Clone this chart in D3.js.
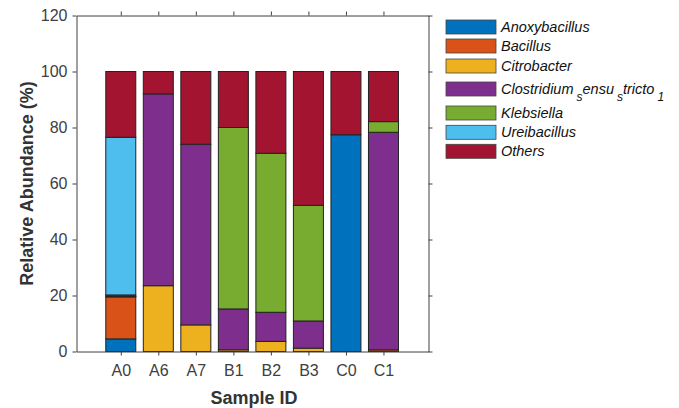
<!DOCTYPE html>
<html><head><meta charset="utf-8">
<script src="https://cdn.jsdelivr.net/npm/d3@7"></script>
<style>body{margin:0;background:#fff;} svg{display:block;font-family:"Liberation Sans",Arial,sans-serif;}</style>
</head><body><svg id="c" width="679" height="408"></svg>
<script>
const samples = ["A0","A6","A7","B1","B2","B3","C0","C1"];
const genera = ["Anoxybacillus","Bacillus","Citrobacter","Clostridium_sensu_stricto_1","Klebsiella","Ureibacillus","Others"];
const colors = ["#0072BD","#D95319","#EDB120","#7E2F8E","#77AC30","#4DBEEE","#A2142F"];
const anoxybacillus = [4.5, 0, 0, 0, 0, 0, 77.4, 0];
const bacillus      = [15.0, 0, 0, 0, 0, 0, 0, 0.6];
const citrobacter   = [0.2, 23.5, 9.5, 0.6, 3.6, 1.2, 0, 0];
const clostridium   = [0.5, 68.5, 64.5, 14.6, 10.4, 9.7, 0, 77.7];
const klebsiella    = [0, 0, 0, 64.8, 56.8, 41.3, 0, 3.8];
const ureibacillus  = [56.3, 0, 0, 0, 0, 0, 0, 0];
const others        = [23.5, 8.0, 26.0, 20.0, 29.2, 47.8, 22.6, 17.9];
const yTicks = [0,20,40,60,80,100,120];

const series = [anoxybacillus,bacillus,citrobacter,clostridium,klebsiella,ureibacillus,others];
const table = samples.map((s,i)=>{const o={sample:s}; genera.forEach((g,j)=>o[g]=series[j][i]); return o;});
const stack = d3.stack().keys(genera)(table);

const svg = d3.select("#c");
const L=76.5, R=428.5, T=15.5, B=351.5;
const x = d3.scaleLinear().domain([-1.18, 8.2]).range([L,R]);
const y = d3.scaleLinear().domain([0,120]).range([B,T]);
const bw = 30;

// bars
stack.forEach((layer,j)=>{
  svg.append("g").selectAll("rect").data(layer).join("rect")
    .attr("x",(d,i)=>x(i)-bw/2).attr("width",bw)
    .attr("y",d=>y(d[1])).attr("height",d=>Math.max(0,y(d[0])-y(d[1])))
    .attr("fill",colors[j]).attr("stroke","#222").attr("stroke-width",d=>(d[1]-d[0])>0?1:0);
});

// axes
const axCol="#404040";
const gy = svg.append("g").attr("transform",`translate(${L},0)`)
  .call(d3.axisLeft(y).tickValues(yTicks).tickSize(4).tickSizeOuter(0).tickPadding(5));
const gyR = svg.append("g").attr("transform",`translate(${R},0)`)
  .call(d3.axisRight(y).tickValues(yTicks).tickSize(4).tickSizeOuter(0).tickFormat(""));
const gx = svg.append("g").attr("transform",`translate(0,${B})`)
  .call(d3.axisBottom(x).tickValues(d3.range(samples.length)).tickFormat(i=>samples[i]).tickSize(4).tickSizeOuter(0).tickPadding(9));
const gxT = svg.append("g").attr("transform",`translate(0,${T})`)
  .call(d3.axisTop(x).tickValues(d3.range(samples.length)).tickFormat("").tickSize(4).tickSizeOuter(0));
[gy,gyR,gx,gxT].forEach(g=>{
  g.selectAll("path,line").attr("stroke",axCol);
  g.selectAll("text").attr("fill",axCol).style("font-size","16px").style("font-family","'Liberation Sans',Arial,sans-serif");
});

svg.append("text").attr("x",254).attr("y",404).attr("text-anchor","middle")
  .style("font-weight","bold").style("font-size","18px").attr("fill","#333").text("Sample ID");
svg.append("text").attr("transform",`translate(33,${(T+B)/2}) rotate(-90)`).attr("text-anchor","middle")
  .style("font-weight","bold").style("font-size","18px").attr("fill","#333").text("Relative Abundance (%)");

// legend
const rowY = [27, 46, 66, 89, 113, 132.3, 151.3];
const lg = svg.append("g");
genera.forEach((g,j)=>{
  lg.append("rect").attr("x",446).attr("y",rowY[j]-7).attr("width",50).attr("height",14)
    .attr("fill",colors[j]).attr("stroke","#444").attr("stroke-width",0.8);
  const t = lg.append("text").attr("x",501).attr("y",rowY[j]+5).style("font-style","italic")
    .style("font-size","14.5px").attr("fill","#111");
  if(g.includes("_")){
    const parts = g.split("_"); // Clostridium, sensu, stricto, 1 -> TeX-like rendering
    t.append("tspan").text(parts[0]);
    t.append("tspan").attr("dx",3).attr("dy",7).style("font-size","12px").text(parts[1][0]);
    t.append("tspan").attr("dy",-7).text(parts[1].slice(1));
    t.append("tspan").attr("dx",3).attr("dy",7).style("font-size","12px").text(parts[2][0]);
    t.append("tspan").attr("dy",-7).text(parts[2].slice(1));
    t.append("tspan").attr("dx",3).attr("dy",7).style("font-size","12px").text(parts[3]);
  } else t.text(g);
});
</script></body></html>
